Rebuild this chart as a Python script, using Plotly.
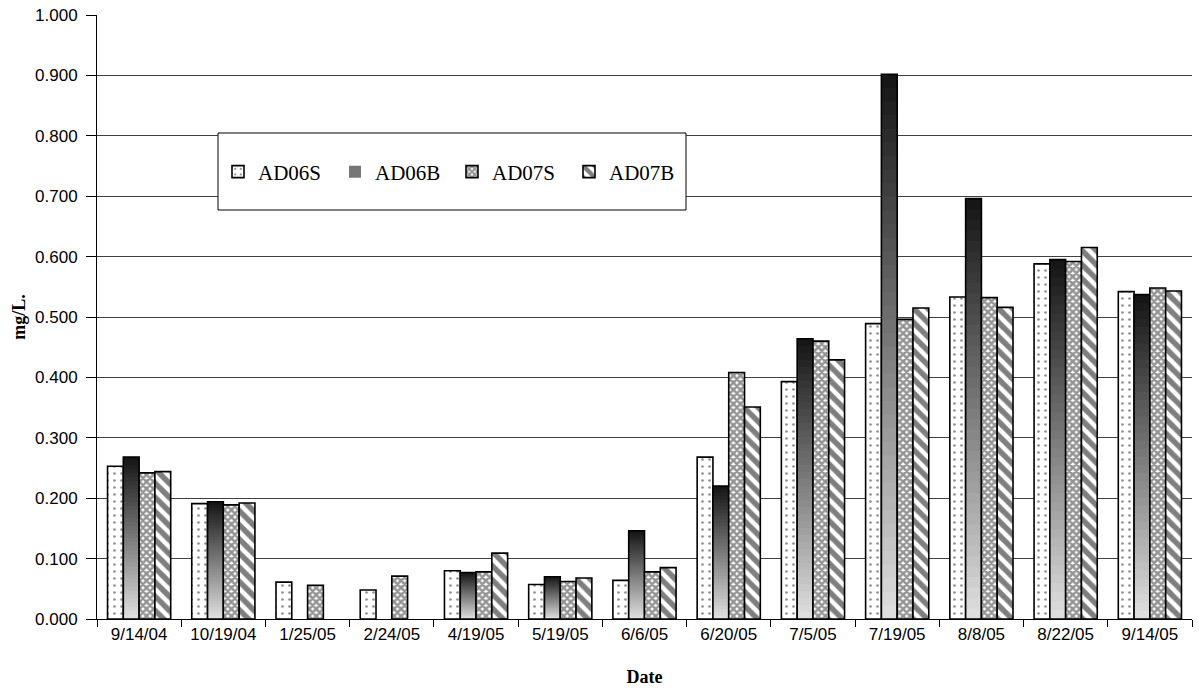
import numpy as np
import plotly.graph_objects as go

dates = ["9/14/04", "10/19/04", "1/25/05", "2/24/05", "4/19/05", "5/19/05", "6/6/05",
         "6/20/05", "7/5/05", "7/19/05", "8/8/05", "8/22/05", "9/14/05"]
ad06s = [0.253, 0.191, 0.061, 0.048, 0.080, 0.057, 0.064, 0.268, 0.393, 0.489, 0.533, 0.588, 0.542]
ad06b = [0.268, 0.194, None, None, 0.077, 0.070, 0.146, 0.220, 0.464, 0.902, 0.696, 0.595, 0.537]
ad07s = [0.242, 0.189, 0.056, 0.071, 0.078, 0.062, 0.078, 0.408, 0.460, 0.496, 0.532, 0.592, 0.548]
ad07b = [0.244, 0.192, None, None, 0.109, 0.068, 0.085, 0.351, 0.429, 0.515, 0.516, 0.615, 0.543]

fig = go.Figure()
line = dict(color="black", width=1.6)

fig.add_trace(go.Bar(
    x=dates, y=ad06s, name="AD06S", offsetgroup="g1",
    marker=dict(color="white", line=line,
                pattern=dict(shape=".", fgcolor="#222", bgcolor="white", size=7, solidity=0.12)),
))

# AD06B gradient: dark at top, light at bottom (overlaid bars, tallest/darkest first)
N = 40
vals = np.array([np.nan if v is None else v for v in ad06b])
for k in range(N - 1, -1, -1):
    t = k / (N - 1)  # 0 bottom -> 1 top
    g = int(round(222 - t * (222 - 22)))
    col = f"rgb({g},{g},{g})"
    fig.add_trace(go.Bar(
        x=dates, y=vals * (k + 1) / N, offsetgroup="g2",
        name="AD06B", legendgroup="AD06B",
        showlegend=(k == N // 2),
        marker=dict(color=col, line=dict(width=0)),
        hoverinfo="skip",
    ))
fig.add_trace(go.Bar(
    x=dates, y=vals, offsetgroup="g2", name="AD06B", legendgroup="AD06B", showlegend=False,
    marker=dict(color="rgba(0,0,0,0)", line=line),
))

fig.add_trace(go.Bar(
    x=dates, y=ad07s, name="AD07S", offsetgroup="g3",
    marker=dict(color="white", line=line,
                pattern=dict(shape="x", fgcolor="#2a2a2a", bgcolor="white", size=5, solidity=0.75)),
))
fig.add_trace(go.Bar(
    x=dates, y=ad07b, name="AD07B", offsetgroup="g4",
    marker=dict(color="white", line=line,
                pattern=dict(shape="\\", fgcolor="black", bgcolor="white", size=10, solidity=0.55)),
))

W, H = 1199, 694
L, R, T, B = 97, 7, 15, 75
pw, ph = W - L - R, H - T - B

def px_x(p):
    return (p - L) / pw

def px_y(p):
    return (H - B - p) / ph

fig.add_shape(type="rect", xref="paper", yref="paper",
              x0=px_x(218), x1=px_x(686), y0=px_y(210), y1=px_y(133),
              fillcolor="white", line=dict(color="black", width=1), layer="above")

fig.update_layout(
    width=W, height=H,
    margin=dict(l=L, r=R, t=T, b=B, autoexpand=False),
    paper_bgcolor="white", plot_bgcolor="white",
    barmode="group", bargap=0.25, bargroupgap=0.0,
    font=dict(family="Liberation Sans", size=17, color="black"),
    legend=dict(
        orientation="h", x=px_x(218), y=px_y(172), xanchor="left", yanchor="middle",
        font=dict(family="Liberation Serif", size=21, color="black"),
        bgcolor="rgba(0,0,0,0)", borderwidth=0,
        entrywidth=72, entrywidthmode="pixels", itemwidth=30,
        traceorder="normal",
    ),
    showlegend=True,
)
fig.update_yaxes(
    range=[0, 1.0], dtick=0.1, tickformat=".3f", automargin=False,
    showgrid=True, gridcolor="#404040", gridwidth=1,
    showline=True, linecolor="black", linewidth=1,
    ticks="outside", ticklen=10, tickcolor="black", ticklabelstandoff=5,
    tickfont=dict(family="Liberation Sans", size=17),
    title=dict(text="<b>mg/L.</b>", font=dict(family="Liberation Serif", size=18), standoff=4),
    zeroline=False,
)
fig.update_xaxes(
    automargin=False,
    showline=True, linecolor="black", linewidth=1,
    ticks="outside", ticklen=7, tickcolor="black", tickson="boundaries",
    tickfont=dict(family="Liberation Sans", size=17),
    title=dict(text="<b>Date</b>", font=dict(family="Liberation Serif", size=18), standoff=26),
)

fig.write_html("out.html", config={"displayModeBar": False},
               post_script="document.body.style.margin='0';document.body.style.padding='0';")
